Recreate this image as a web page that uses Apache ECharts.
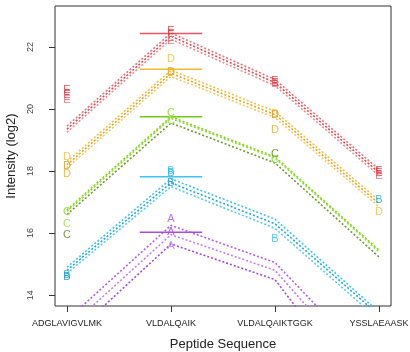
<!DOCTYPE html>
<html><head><meta charset="utf-8">
<script src="https://cdn.jsdelivr.net/npm/echarts@6/dist/echarts.min.js"></script>
<style>html,body{margin:0;padding:0;background:#fff}#c{width:410px;height:352px}</style>
</head><body><div id="c"></div>
<script>
const categories = ['ADGLAVIGVLMK', 'VLDALQAIK', 'VLDALQAIKTGGK', 'YSSLAEAASK'];
const yTicks = [14, 16, 18, 20, 22];
const groups = ['E', 'D', 'C', 'B', 'A'];

// dotted profile lines, values at the 4 peptides
const linesE = [[19.45, 22.45, 20.95, 18.05], [19.35, 22.35, 20.85, 17.95], [19.25, 22.25, 20.75, 17.85]];
const linesD = [[18.3, 21.25, 19.92, 17.05], [18.2, 21.15, 19.82, 16.95], [18.1, 21.05, 19.72, 16.85]];
const linesC = [[16.75, 19.75, 18.46, 15.45], [16.7, 19.7, 18.42, 15.4], [16.6, 19.55, 18.26, 15.23]];
const linesB = [[14.9, 17.75, 16.45, 13.45], [14.8, 17.62, 16.3, 13.35], [14.7, 17.5, 16.15, 13.2]];
const linesA = [[13.2, 16.25, 15.05, 11.55], [12.9, 15.95, 14.8, 11.0], [12.55, 15.65, 14.5, 10.1]];

// letter markers: [peptide index, value]
const markersE = [[0, 20.6], [0, 20.45], [0, 20.3], [1, 22.5], [1, 22.42], [1, 22.2], [2, 20.9], [2, 20.85], [2, 20.8], [3, 18.0], [3, 17.95], [3, 17.85]];
const markersD = [[0, 18.45], [0, 18.15], [0, 17.9], [1, 21.6], [1, 21.2], [1, 21.15], [2, 19.85], [2, 19.8], [2, 19.32], [3, 16.68]];
const markersC = [[0, 16.68], [0, 16.29], [0, 15.94], [1, 19.87], [1, 19.6], [2, 18.54], [2, 18.35]];
const markersB = [[0, 14.65], [0, 14.6], [1, 18.0], [1, 17.95], [1, 17.6], [2, 15.8], [3, 17.06]];
const markersA = [[1, 16.45], [1, 16.03], [1, 15.6]];

// summary level at VLDALQAIK
const summaryValues = [22.43, 21.28, 19.75, 17.82, 16.03];

const linesByGroup = {E: linesE, D: linesD, C: linesC, B: linesB, A: linesA};
const markersByGroup = {E: markersE, D: markersD, C: markersC, B: markersB, A: markersA};
const lineColors = {
  E: ['#EF6F78', '#E8474F', '#F08A90'],
  D: ['#F6BE3C', '#E0A52A', '#F8C85A'],
  C: ['#7FD81C', '#8EDD30', '#6E9A2E'],
  B: ['#3CC4F2', '#22A8DE', '#55CCF4'],
  A: ['#B45CF0', '#C77DFA', '#A04AE6']
};
const markColors = {
  E: ['#E8393F', '#E8393F', '#F06A72'],
  D: ['#F8C24A', '#D9A030', '#F2B430'],
  C: ['#8ADB2E', '#9BE34A', '#6A9430'],
  B: ['#2AB4E8', '#1E9BD0', '#3CC4F2'],
  A: ['#B466F0', '#A64DE8', '#C68AF8']
};
const summaryColors = ['#EC5560', '#F5B830', '#72CC10', '#3CC4F2', '#A64DE8'];

const series = [];
groups.forEach((g, gi) => {
  linesByGroup[g].forEach((vals, li) => {
    series.push({
      type: 'line', silent: true, symbol: 'none', z: 2,
      data: vals.map((v, i) => [i + 1, v]),
      lineStyle: {color: lineColors[g][li], width: 1.6, type: [2, 2]}
    });
  });
  series.push({
    type: 'line', silent: true, symbol: 'none', z: 3,
    data: [[1.7, summaryValues[gi]], [2.3, summaryValues[gi]]],
    lineStyle: {color: summaryColors[gi], width: 1.5, type: 'solid'}
  });
  series.push({
    type: 'scatter', silent: true, z: 4, symbolSize: 1,
    itemStyle: {color: 'rgba(0,0,0,0)'},
    data: markersByGroup[g].map((m, i) => ({
      value: [m[0] + 1, m[1]],
      label: {color: markColors[g][i % 3]}
    })),
    label: {show: true, position: 'inside', formatter: g, fontSize: 11,
      fontFamily: 'Liberation Sans, Arial, sans-serif', opacity: 0.9}
  });
});

const chart = echarts.init(document.getElementById('c'), null, {renderer: 'canvas'});
chart.setOption({
  animation: false,
  backgroundColor: '#fff',
  grid: {left: 55, right: 19, top: 6, bottom: 46, outerBoundsMode: 'none', containLabel: false,
    show: true, borderColor: '#333', borderWidth: 1, backgroundColor: 'transparent'},
  xAxis: {
    type: 'value', min: 0.885, max: 4.115,
    name: 'Peptide Sequence', nameLocation: 'middle', nameGap: 32,
    nameTextStyle: {fontSize: 13, color: '#222', fontFamily: 'Liberation Sans, Arial, sans-serif'},
    splitLine: {show: false},
    axisLine: {show: false},
    axisTick: {show: true, length: 6, lineStyle: {color: '#333'}, customValues: [1, 2, 3, 4]},
    axisLabel: {customValues: [1, 2, 3, 4], formatter: v => categories[Math.round(v) - 1] || '',
      fontSize: 9, color: '#222', margin: 13, hideOverlap: false,
      fontFamily: 'Liberation Sans, Arial, sans-serif'}
  },
  yAxis: {
    type: 'value', min: 13.65, max: 23.32,
    name: 'Intensity (log2)', nameLocation: 'middle', nameGap: 33, nameRotate: 90,
    nameTextStyle: {fontSize: 13, color: '#222', fontFamily: 'Liberation Sans, Arial, sans-serif'},
    splitLine: {show: false},
    axisLine: {show: false},
    axisTick: {show: true, length: 6, lineStyle: {color: '#333'}, customValues: yTicks},
    axisLabel: {customValues: yTicks, rotate: 90, fontSize: 9, color: '#444', margin: 20,
      fontFamily: 'Liberation Sans, Arial, sans-serif'}
  },
  series: series
});
</script>
</body></html>
